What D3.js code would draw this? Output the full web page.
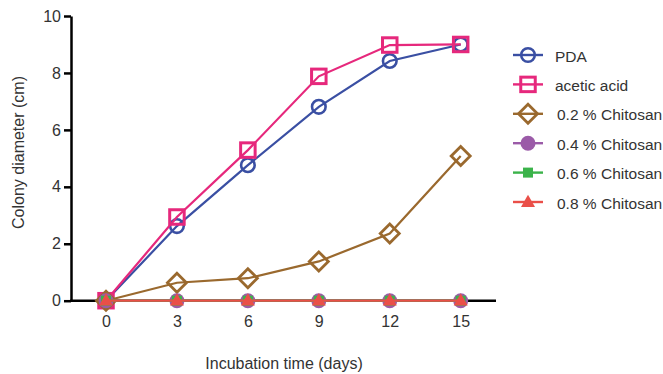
<!DOCTYPE html>
<html>
<head>
<meta charset="utf-8">
<script src="https://cdn.jsdelivr.net/npm/d3@7"></script>
<style>
body{margin:0;background:#fff;}
svg{display:block;font-family:"Liberation Sans",Arial,sans-serif;}
</style>
</head>
<body>
<svg id="c" width="663" height="374"></svg>
<script>
const days = [0, 3, 6, 9, 12, 15];
const xTicks = [0, 3, 6, 9, 12, 15];
const yTicks = [0, 2, 4, 6, 8, 10];
const seriesNames = ["PDA", "acetic acid", "0.2 % Chitosan", "0.4 % Chitosan", "0.6 % Chitosan", "0.8 % Chitosan"];
const pda = [0, 2.62, 4.76, 6.81, 8.42, 9.0];
const aceticAcid = [0, 2.94, 5.29, 7.88, 8.98, 9.0];
const chitosan02 = [0, 0.63, 0.79, 1.38, 2.36, 5.08];
const chitosan04 = [0, 0, 0, 0, 0, 0];
const chitosan06 = [0, 0, 0, 0, 0, 0];
const chitosan08 = [0, 0, 0, 0, 0, 0];

const series = [
  {name: seriesNames[0], values: pda, color: "#3a4fa3", shape: "circle", filled: false},
  {name: seriesNames[1], values: aceticAcid, color: "#e6287c", shape: "square", filled: false},
  {name: seriesNames[2], values: chitosan02, color: "#9a692e", shape: "diamond", filled: false},
  {name: seriesNames[3], values: chitosan04, color: "#9b5ba8", shape: "circle", filled: true},
  {name: seriesNames[4], values: chitosan06, color: "#3bb34a", shape: "square", filled: true},
  {name: seriesNames[5], values: chitosan08, color: "#ea4f48", shape: "triangle", filled: true}
];

const FONT = "Liberation Sans, Arial, sans-serif";
const svg = d3.select("#c");
const x = d3.scaleLinear().domain([0, 15]).range([106, 460.7]);
const y = d3.scaleLinear().domain([0, 10]).range([300.7, 16]);

// axes
const yAxis = svg.append("g").attr("transform", "translate(71,0)")
  .call(d3.axisLeft(y).tickValues(yTicks).tickSize(7).tickSizeOuter(0).tickPadding(3));
yAxis.select(".domain").attr("stroke", "#000").attr("stroke-width", 2.5);
yAxis.selectAll(".tick line").attr("stroke", "#000").attr("stroke-width", 2.5);
yAxis.selectAll(".tick text").attr("font-size", 16).attr("fill", "#333").attr("font-family", FONT);

const xAxis = svg.append("g").attr("transform", "translate(0,300.7)")
  .call(d3.axisBottom(x).tickValues(xTicks).tickSize(0).tickPadding(15));
xAxis.select(".domain").remove();
xAxis.selectAll(".tick line").remove();
xAxis.selectAll(".tick text").attr("font-size", 16).attr("fill", "#333").attr("font-family", FONT);
svg.append("line").attr("x1", 70).attr("x2", 496).attr("y1", 300.7).attr("y2", 300.7)
  .attr("stroke", "#000").attr("stroke-width", 2.5);

// titles
svg.append("text").attr("x", 284).attr("y", 369).attr("text-anchor", "middle")
  .attr("font-size", 16).attr("fill", "#333").text("Incubation time (days)");
svg.append("text").attr("transform", "translate(24,152.5) rotate(-90)").attr("text-anchor", "middle")
  .attr("font-size", 16).attr("fill", "#333").text("Colony diameter (cm)");

function drawMarker(g, shape, color, filled, cx, cy) {
  const sw = 2.6;
  if (shape === "circle") {
    g.append("circle").attr("cx", cx).attr("cy", cy).attr("r", filled ? 7.5 : 6.8)
      .attr("fill", filled ? color : "none").attr("stroke", color).attr("stroke-width", filled ? 0 : sw);
  } else if (shape === "square") {
    const s = filled ? 10 : 14.5;
    g.append("rect").attr("x", cx - s / 2).attr("y", cy - s / 2).attr("width", s).attr("height", s)
      .attr("fill", filled ? color : "none").attr("stroke", color).attr("stroke-width", filled ? 0 : 3);
  } else if (shape === "diamond") {
    const r = 9.5;
    g.append("path").attr("d", `M${cx},${cy - r}L${cx + r},${cy}L${cx},${cy + r}L${cx - r},${cy}Z`)
      .attr("fill", "none").attr("stroke", color).attr("stroke-width", 2.8);
  } else if (shape === "triangle") {
    const r = 7;
    g.append("path").attr("d", `M${cx},${cy - r * 1.05}L${cx + r},${cy + r * 0.7}L${cx - r},${cy + r * 0.7}Z`)
      .attr("fill", color);
  }
}

const line = d3.line().x((d, i) => x(days[i])).y(d => y(d));
series.forEach(s => {
  const g = svg.append("g");
  g.append("path").attr("d", line(s.values)).attr("fill", "none")
    .attr("stroke", s.color).attr("stroke-width", 2.2);
  s.values.forEach((v, i) => drawMarker(g, s.shape, s.color, s.filled, x(days[i]), y(v)));
});

// legend
const legendY = d3.scaleLinear().domain([0, 5]).range([55, 202]);
series.forEach((s, i) => {
  const g = svg.append("g");
  const cy = legendY(i);
  g.append("line").attr("x1", 513).attr("x2", 543).attr("y1", cy).attr("y2", cy)
    .attr("stroke", s.color).attr("stroke-width", 2.4);
  drawMarker(g, s.shape, s.color, s.filled, 528, cy);
  g.append("text").attr("x", i < 2 ? 555 : 557).attr("y", cy + 6.5).attr("font-size", 15.5)
    .attr("fill", "#333").text(s.name);
});
</script>
</body>
</html>
